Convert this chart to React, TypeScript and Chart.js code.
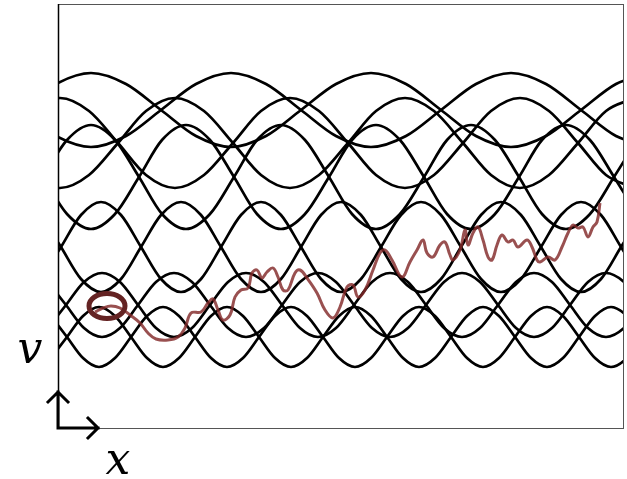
import React, { useEffect, useRef } from "react";
import { Chart, registerables } from "chart.js";
Chart.register(...registerables);

// x: position along the box (0..566), v: height (0..425)
const xsA = [-37,-2,33,68,103,138,173,208,243,278,313,348,383,418,453,488,523,558,593];
const vA1 = [319,345,356,345,319,293,282,293,319,345,356,345,319,293,282,293,319,345,356];
const vA2 = [319,293,282,293,319,345,356,345,319,293,282,293,319,345,356,345,319,293,282];

const xsB = [-27,2,31,60,88,117,146,175,203,232,261,290,318,347,376,405,433,462,491,520,548,577];
const vB1 = [254,241,254,286,318,331,318,286,254,241,254,286,318,331,318,286,254,241,254,286,318,331];
const vB2 = [318,331,318,286,254,241,254,286,318,331,318,286,254,241,254,286,318,331,318,286,254,241];

const xsC = [-15,9,33,57,81,104,128,152,176,199,223,247,271,294,318,342,366,389,413,437,461,484,508,532,556,579];
const vC1 = [252,289,304,289,252,215,200,215,252,289,304,289,252,215,200,215,252,289,304,289,252,215,200,215,252,289];
const vC2 = [252,215,200,215,252,289,304,289,252,215,200,215,252,289,304,289,252,215,200,215,252,289,304,289,252,215];

const xsD = [-17,3,23,43,63,83,103,123,143,163,183,203,223,243,263,283,303,323,343,363,383,403,423,443,463,483,503,523,543,563,583];
const vD1 = [150,182,214,227,214,182,150,137,150,182,214,227,214,182,150,137,150,182,214,227,214,182,150,137,150,182,214,227,214,182,150];
const vD2 = [214,182,150,137,150,182,214,227,214,182,150,137,150,182,214,227,214,182,150,137,150,182,214,227,214,182,150,137,150,182,214];

const xsE = [-10,8,26,44,62,80,98,116,134,152,170,188,206,224,242,260,278,296,314,332,350,368,386,404,422,440,458,476,494,512,530,548,566,584];
const vE1 = [101,124,147,156,147,124,101,92,101,124,147,156,147,124,101,92,101,124,147,156,147,124,101,92,101,124,147,156,147,124,101,92,101,124];
const vE2 = [147,124,101,92,101,124,147,156,147,124,101,92,101,124,147,156,147,124,101,92,101,124,147,156,147,124,101,92,101,124,147,156,147,124];

const xsF = [-7,9,25,41,57,73,89,105,121,137,153,169,185,201,217,233,249,265,281,297,313,329,345,361,377,393,409,425,441,457,473,489,505,521,537,553,569,585];
const vF1 = [71,92,113,122,113,92,71,62,71,92,113,122,113,92,71,62,71,92,113,122,113,92,71,62,71,92,113,122,113,92,71,62,71,92,113,122,113,92];
const vF2 = [113,92,71,62,71,92,113,122,113,92,71,62,71,92,113,122,113,92,71,62,71,92,113,122,113,92,71,62,71,92,113,122,113,92,71,62,71,92];

const pathX = [37,45,53,62,72,82,90,98,110,120,127,133,143,150,155,160,165,172,177,183,190,194,199,204,209,215,220,225,230,237,242,249,259,267,275,282,289,295,300,307,315,322,327,334,344,352,359,365,369,375,382,387,392,395,402,407,410,415,420,425,430,434,439,444,450,455,460,469,474,479,482,490,497,504,510,515,520,525,530,535,539,542];
const pathV = [117,121,123,121,114,106,96,90,89,92,101,116,117,126,130,119,109,114,132,139,141,156,159,151,157,161,152,139,139,156,159,151,136,119,111,122,142,144,132,139,159,176,179,169,152,167,179,189,176,172,184,187,174,169,179,199,184,196,202,189,172,169,184,194,187,189,182,189,182,169,167,172,169,182,196,204,201,202,192,202,207,226];

const startX = [49];
const startV = [123];

const pts = (xs: number[], vs: number[]) => xs.map((x, i) => ({ x, y: vs[i] }));

export default function App() {
  const ref = useRef<HTMLCanvasElement | null>(null);
  useEffect(() => {
    const canvas = ref.current!;
    const ring = document.createElement("canvas");
    ring.width = 48; ring.height = 36;
    const rc = ring.getContext("2d")!;
    rc.strokeStyle = "#642323";
    rc.lineWidth = 5;
    rc.beginPath();
    rc.ellipse(24, 18, 18, 12.5, 0, 0, Math.PI * 2);
    rc.stroke();

    const black = (xs: number[], vs: number[]) => ({
      data: pts(xs, vs),
      borderColor: "#000",
      borderWidth: 2.7,
      pointRadius: 0,
      tension: 0.4,
      cubicInterpolationMode: "monotone" as const,
      order: 3,
    });

    const overlay = {
      id: "overlay",
      afterDraw(chart: any) {
        const { ctx, chartArea } = chart;
        const { left, top, right, bottom } = chartArea;
        ctx.save();
        ctx.strokeStyle = "#555";
        ctx.lineWidth = 1;
        ctx.strokeRect(left + 0.5, top + 0.5, right - left - 1, bottom - top - 1);
        ctx.strokeStyle = "#000";
        ctx.lineWidth = 1.5;
        ctx.beginPath();
        ctx.moveTo(left + 0.5, top);
        ctx.lineTo(left + 0.5, bottom);
        ctx.stroke();
        ctx.lineWidth = 3;
        ctx.lineCap = "square";
        ctx.beginPath();
        ctx.moveTo(left, bottom - 1);
        ctx.lineTo(left, bottom - 37);
        ctx.moveTo(left - 10, bottom - 27);
        ctx.lineTo(left, bottom - 37);
        ctx.lineTo(left + 10, bottom - 27);
        ctx.moveTo(left, bottom - 1);
        ctx.lineTo(left + 40, bottom - 1);
        ctx.moveTo(left + 30, bottom - 11);
        ctx.lineTo(left + 40, bottom - 1);
        ctx.lineTo(left + 30, bottom + 9);
        ctx.stroke();
        ctx.fillStyle = "#000";
        ctx.font = "italic 44px 'DejaVu Serif'";
        ctx.textAlign = "center";
        ctx.textBaseline = "alphabetic";
        ctx.fillText("v", 30, 363);
        ctx.fillText("x", 118, 474);
        ctx.restore();
      },
    };

    const chart = new Chart(canvas, {
      type: "line",
      data: {
        datasets: [
          black(xsA, vA1), black(xsA, vA2),
          black(xsB, vB1), black(xsB, vB2),
          black(xsC, vC1), black(xsC, vC2),
          black(xsD, vD1), black(xsD, vD2),
          black(xsE, vE1), black(xsE, vE2),
          black(xsF, vF1), black(xsF, vF2),
          {
            data: pts(pathX, pathV),
            borderColor: "rgba(130,42,42,0.82)",
            borderWidth: 3,
            pointRadius: 0,
            tension: 0.4,
            order: 2,
          } as any,
          {
            data: pts(startX, startV),
            showLine: false,
            pointStyle: ring,
            pointRadius: 20,
            order: 1,
          } as any,
        ],
      },
      options: {
        animation: false,
        responsive: false,
        devicePixelRatio: 1,
        layout: { autoPadding: false, padding: { left: 58, right: 3, top: 4, bottom: 50 } },
        plugins: { legend: { display: false }, tooltip: { enabled: false } },
        scales: {
          x: { type: "linear", min: 0, max: 566, display: false },
          y: { type: "linear", min: 0, max: 425, display: false },
        },
      },
      plugins: [overlay],
    });
    return () => chart.destroy();
  }, []);
  return (
    <div style={{ position: "fixed", left: 0, top: 0, width: 627, height: 479, background: "#fff" }}>
      <canvas ref={ref} width={627} height={479} style={{ width: 627, height: 479 }} />
    </div>
  );
}
